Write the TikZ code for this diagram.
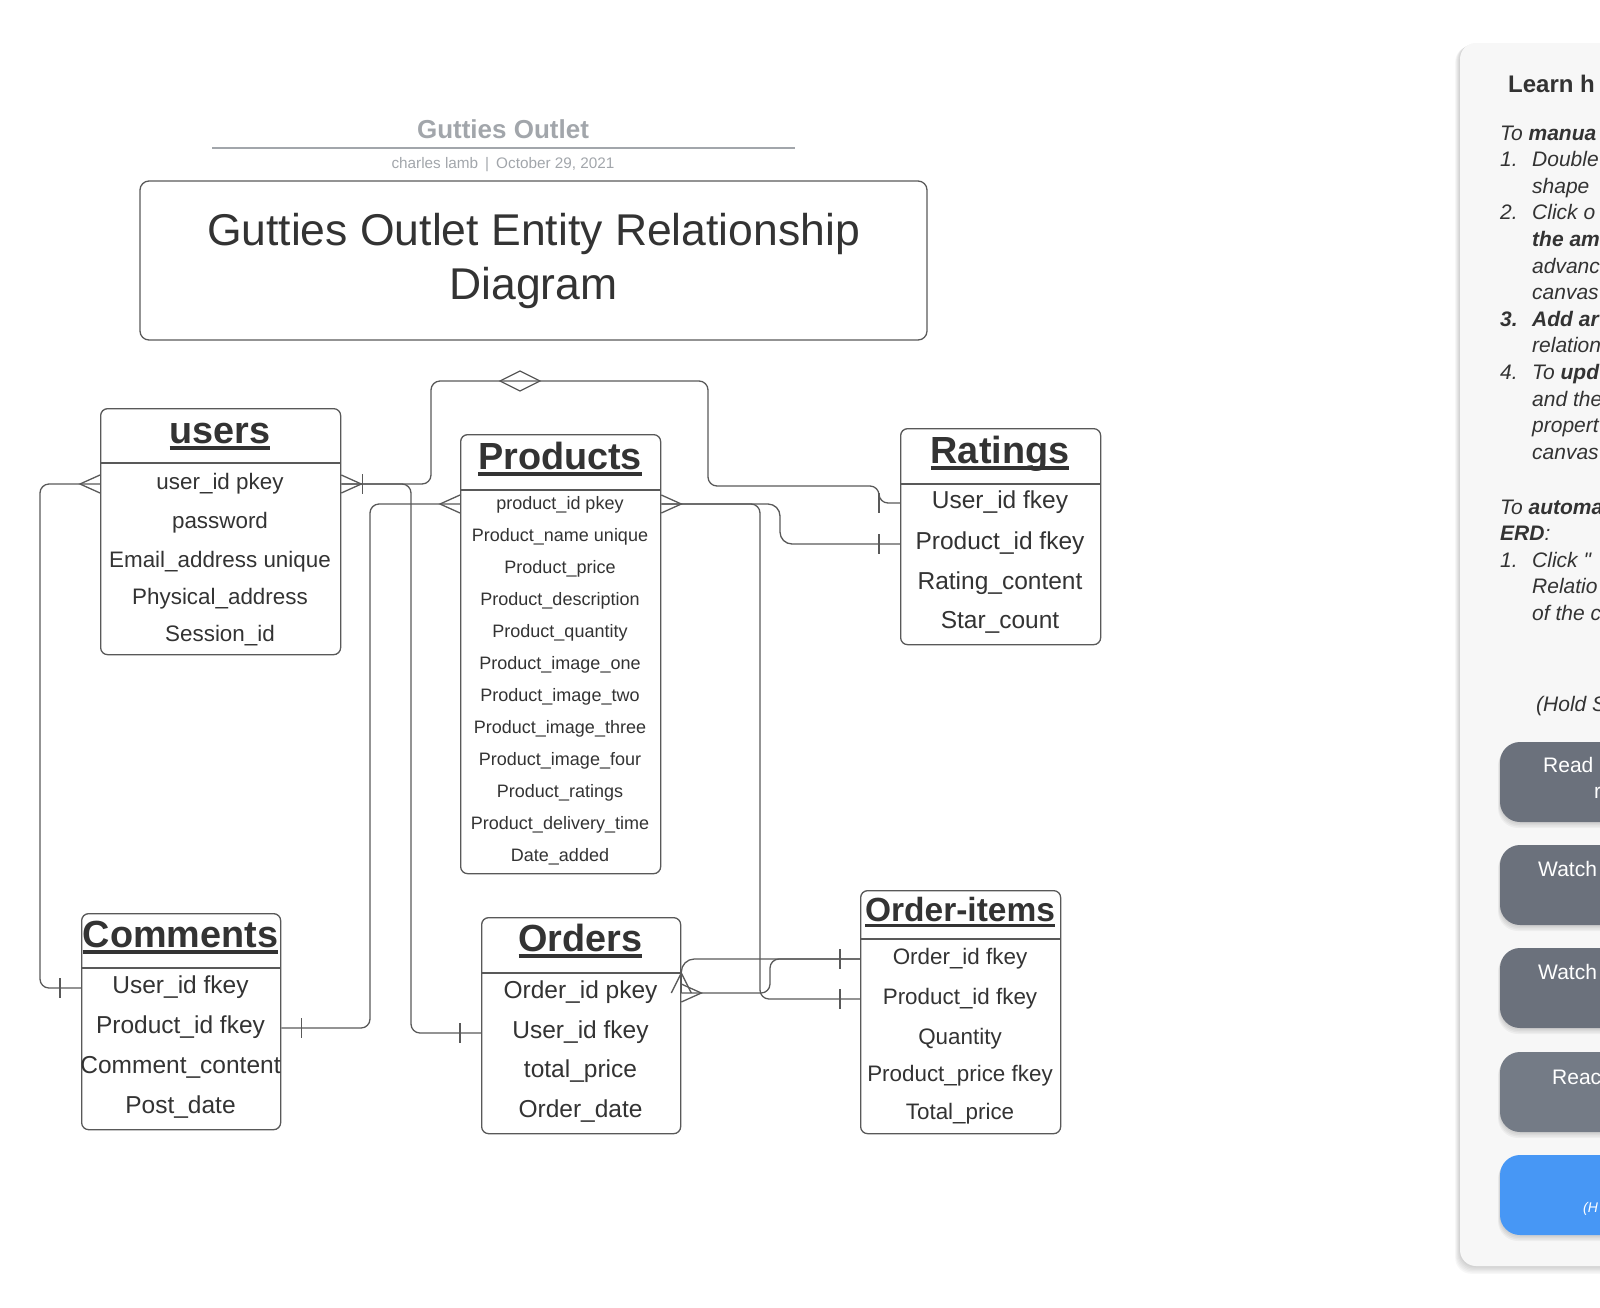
\documentclass[tikz,border=0pt]{standalone}
\usepackage{fontspec}
\setmainfont{Liberation Sans}
\usetikzlibrary{positioning,calc}

\definecolor{linegray}{HTML}{595959}
\definecolor{textdark}{HTML}{333333}
\definecolor{headgray}{HTML}{A2A6AB}
\definecolor{panelfill}{HTML}{F7F7F7}
\definecolor{btngray}{HTML}{6B717C}
\definecolor{btnlight}{HTML}{747B86}
\definecolor{btnblue}{HTML}{4797F5}

\newcommand{\entname}[1]{\sbox0{#1}\rlap{\usebox0}\rule[-0.18em]{\wd0}{0.095em}}

\tikzset{
  entity/.style={draw=linegray, line width=1.3pt, rounded corners=7pt, fill=white, anchor=north west, inner sep=0pt},
  etitle/.style={anchor=base, text=textdark, inner sep=0pt, font=\fontsize{37.8}{40}\selectfont\bfseries},
  attr/.style={text=textdark, inner sep=0pt, text height=1.05em, text depth=0.05em},
  attrsmall/.style={font=\fontsize{18}{20}\selectfont},
  attrmid/.style={font=\fontsize{22.4}{24}\selectfont},
  attrbig/.style={font=\fontsize{24.5}{26}\selectfont},
  headline/.style={draw=linegray, line width=1.3pt},
  conn/.style={draw=linegray, line width=1.3pt, rounded corners=9pt},
  foot/.style={draw=linegray, line width=1.3pt},
  helptext/.style={anchor=base west, inner sep=0pt, text=textdark, font=\fontsize{21}{26}\selectfont\itshape},
  btntext/.style={anchor=base west, inner sep=0pt, text=white, font=\fontsize{21}{26}\selectfont},
}

\begin{document}
\begin{tikzpicture}[x=1pt, y=-1pt]
    \useasboundingbox (0,0) rectangle (1600,1307);

    % Document header
    \node[text=headgray, font=\fontsize{26}{28}\selectfont\bfseries] (doctitle) at (503,129) {Gutties Outlet};
    \draw[headgray, line width=2pt] (212,148) -- (795,148);
    \node[text=headgray, font=\fontsize{15.3}{17}\selectfont] (docinfo) at (503,165) {charles lamb\hspace{7pt}|\hspace{7pt}October 29, 2021};

    % Title box
    \node[draw=linegray, line width=1.3pt, rounded corners=9pt, minimum width=787pt, minimum height=159pt, align=center, text=textdark, font=\fontsize{44.5}{54}\selectfont] (maintitle) at (533.5,260.5) {Gutties Outlet Entity Relationship\\Diagram};

    % users
    \node[entity, minimum width=240pt, minimum height=246pt] (users) at (100,408) {};
    \draw[headline] (100,463) -- (340,463);
    \node[etitle] (userstitle) at (220,443) {\entname{users}};
    \node[attr, attrmid] (usersid) at (220,484) {user\_id pkey};
    \node[attr, attrmid] (userspass) at (220,523) {password};
    \node[attr, attrmid] (usersmail) at (220,562) {Email\_address unique};
    \node[attr, attrmid] (usersaddr) at (220,599) {Physical\_address};
    \node[attr, attrmid] (userssess) at (220,636) {Session\_id};

    % Products
    \node[entity, minimum width=200pt, minimum height=439pt] (products) at (460,434) {};
    \draw[headline] (460,490) -- (660,490);
    \node[etitle] (prodtitle) at (560,469) {\entname{Products}};
    \node[attr, attrsmall] (prodid) at (560,504) {product\_id pkey};
    \node[attr, attrsmall] (prodname) at (560,536) {Product\_name unique};
    \node[attr, attrsmall] (prodprice) at (560,568) {Product\_price};
    \node[attr, attrsmall] (proddesc) at (560,600) {Product\_description};
    \node[attr, attrsmall] (prodqty) at (560,632) {Product\_quantity};
    \node[attr, attrsmall] (prodimgone) at (560,664) {Product\_image\_one};
    \node[attr, attrsmall] (prodimgtwo) at (560,696) {Product\_image\_two};
    \node[attr, attrsmall] (prodimgthree) at (560,728) {Product\_image\_three};
    \node[attr, attrsmall] (prodimgfour) at (560,760) {Product\_image\_four};
    \node[attr, attrsmall] (prodrate) at (560,792) {Product\_ratings};
    \node[attr, attrsmall] (proddeliv) at (560,824) {Product\_delivery\_time};
    \node[attr, attrsmall] (prodadded) at (560,856) {Date\_added};

    % Ratings
    \node[entity, minimum width=200pt, minimum height=216pt] (ratings) at (900,428) {};
    \draw[headline] (900,484) -- (1100,484);
    \node[etitle] (rattitle) at (1000,463) {\entname{Ratings}};
    \node[attr, attrbig] (ratuser) at (1000,503) {User\_id fkey};
    \node[attr, attrbig] (ratprod) at (1000,544) {Product\_id fkey};
    \node[attr, attrbig] (ratcontent) at (1000,584) {Rating\_content};
    \node[attr, attrbig] (ratstars) at (1000,623) {Star\_count};

    % Comments
    \node[entity, minimum width=199pt, minimum height=216pt] (comments) at (81,913) {};
    \draw[headline] (81,968) -- (280,968);
    \node[etitle] (commtitle) at (180.5,947) {\entname{Comments}};
    \node[attr, attrbig] (commuser) at (180.5,988) {User\_id fkey};
    \node[attr, attrbig] (commprod) at (180.5,1028) {Product\_id fkey};
    \node[attr, attrbig] (commcontent) at (180.5,1068) {Comment\_content};
    \node[attr, attrbig] (commdate) at (180.5,1108) {Post\_date};

    % Orders
    \node[entity, minimum width=199pt, minimum height=216pt] (orders) at (481,917) {};
    \draw[headline] (481,973) -- (680,973);
    \node[etitle] (ordtitle) at (580.5,951) {\entname{Orders}};
    \node[attr, attrbig] (ordid) at (580.5,993) {Order\_id pkey};
    \node[attr, attrbig] (orduser) at (580.5,1033) {User\_id fkey};
    \node[attr, attrbig] (ordtotal) at (580.5,1072) {total\_price};
    \node[attr, attrbig] (orddate) at (580.5,1112) {Order\_date};

    % Order-items
    \node[entity, minimum width=200pt, minimum height=243pt] (orderitems) at (860,890) {};
    \draw[headline] (860,939) -- (1060,939);
    \node[etitle, font=\fontsize{33.5}{36}\selectfont\bfseries] (oititle) at (960,921) {\entname{Order-items}};
    \node[attr, attrmid] (oiorder) at (960,959) {Order\_id fkey};
    \node[attr, attrmid] (oiprod) at (960,999) {Product\_id fkey};
    \node[attr, attrmid] (oiqty) at (960,1039) {Quantity};
    \node[attr, attrmid] (oiprice) at (960,1076) {Product\_price fkey};
    \node[attr, attrmid] (oitotal) at (960,1114) {Total\_price};

    % Routing points
    \coordinate (railuc) at (40,0);
    \coordinate (railpc) at (370,0);
    \coordinate (railuo) at (411,0);
    \coordinate (loopa) at (431,381);
    \coordinate (loopb) at (708,486);
    \coordinate (diam) at (520,381);
    \coordinate (railpo) at (760,0);
    \coordinate (railoo) at (770,0);
    \coordinate (railpr) at (780,0);
    \coordinate (railr) at (879,0);

    % Connectors
    \draw[conn] (users.west |- usersid) -| (railuc |- commuser) -- (comments.west |- commuser);
    \draw[conn] (users.east |- usersid) -| (loopa) -| (loopb) -| (railr |- ratuser) [rounded corners=8pt] -- (ratings.west |- ratuser);
    \draw[conn] (users.east |- usersid) -| (railuo |- orduser) -- (orders.west |- orduser);
    \draw[conn] (products.west |- prodid) -| (railpc |- commprod) -- (comments.east |- commprod);
    \draw[conn, rounded corners=12pt] (products.east |- prodid) -| (railpr |- ratprod) -- (ratings.west |- ratprod);
    \draw[conn] (products.east |- prodid) -| (railpo |- oiprod) -- (orderitems.west |- oiprod);
    \draw[conn] (orders.east |- ordid) -| (railoo |- oiorder) -- (orderitems.west |- oiorder);
    \draw[conn, rounded corners=13pt] (orders.east |- ordid) -- (orders.east |- oiorder) -- (orderitems.west |- oiorder);

    % Crow's feet, bars and diamond
    \draw[foot] (users.west |- usersid) ++(0,-9) -- ++(-20,9) -- ++(20,9);
    \draw[foot] (users.east |- usersid) ++(0,-9) -- ++(20,9) -- ++(-20,9);
    \draw[foot] (users.east |- usersid) ++(21,-10) -- ++(0,20);
    \draw[foot] (comments.west |- commuser) ++(-21,-10) -- ++(0,20);
    \draw[foot] (comments.east |- commprod) ++(20,-10) -- ++(0,20);
    \draw[foot] (products.west |- prodid) ++(0,-9) -- ++(-20,9) -- ++(20,9);
    \draw[foot] (products.east |- prodid) ++(0,-9) -- ++(20,9) -- ++(-20,9);
    \draw[foot] (ratings.west |- ratuser) ++(-21,-10) -- ++(0,20);
    \draw[foot] (ratings.west |- ratprod) ++(-21,-10) -- ++(0,20);
    \draw[foot] (orders.west |- orduser) ++(-21,-10) -- ++(0,20);
    \draw[foot] (orders.east |- ordid) ++(0,-9) -- ++(20,9) -- ++(-20,9);
    \draw[foot] (orders.east |- ordid) ++(-10,0) -- ++(10,-20) -- ++(10,20);
    \draw[foot] (orderitems.west |- oiorder) ++(-20,-10) -- ++(0,20);
    \draw[foot] (orderitems.west |- oiprod) ++(-20,-10) -- ++(0,20);
    \draw[foot] (diam) ++(-20,0) -- ++(20,-10) -- ++(20,10) -- ++(-20,10) -- cycle;

    % Help panel
    \foreach \s in {1,...,6}
        \fill[black, opacity=0.03, rounded corners=16pt] ({1460-\s*0.8},{43+\s*0.5}) rectangle (1650,{1266+\s*1.3});
    \fill[panelfill, rounded corners=16pt] (1460,43) rectangle (1650,1266);
    \node[anchor=base west, inner sep=0pt, text=textdark, font=\fontsize{24}{26}\selectfont\bfseries] (learn) at (1508,92) {Learn h};
    \node[helptext] (hl1) at (1500,140) {To \textbf{manua}};
    \node[helptext] (hl2n) at (1500,166.6) {1.};
    \node[helptext] (hl2) at (1532,166.6) {Double};
    \node[helptext] (hl3) at (1532,193.2) {shape};
    \node[helptext] (hl4n) at (1500,219.8) {2.};
    \node[helptext] (hl4) at (1532,219.8) {Click o};
    \node[helptext] (hl5) at (1532,246.4) {\textbf{the am}};
    \node[helptext] (hl6) at (1532,273) {advanc};
    \node[helptext] (hl7) at (1532,299.6) {canvas};
    \node[helptext] (hl8n) at (1500,326.2) {\textbf{3.}};
    \node[helptext] (hl8) at (1532,326.2) {\textbf{Add ar}};
    \node[helptext] (hl9) at (1532,352.8) {relation};
    \node[helptext] (hl10n) at (1500,379.4) {4.};
    \node[helptext] (hl10) at (1532,379.4) {To \textbf{upd}};
    \node[helptext] (hl11) at (1532,406) {and the};
    \node[helptext] (hl12) at (1532,432.6) {propert};
    \node[helptext] (hl13) at (1532,459.2) {canvas};
    \node[helptext] (hl14) at (1500,514) {To \textbf{automa}};
    \node[helptext] (hl15) at (1500,540.6) {\textbf{ERD}:};
    \node[helptext] (hl16n) at (1500,567.2) {1.};
    \node[helptext] (hl16) at (1532,567.2) {Click \textquotedbl};
    \node[helptext] (hl17) at (1532,593.8) {Relatio};
    \node[helptext] (hl18) at (1532,620.4) {of the c};
    \node[helptext] (hold) at (1536,711) {(Hold S};

    % Buttons
    \foreach \yt/\col in {742/btngray, 845/btngray, 948/btngray, 1052/btnlight, 1155/btnblue} {
        \foreach \s in {1,...,4}
            \fill[black, opacity=0.04, rounded corners=20pt] ({1500-\s*0.5},{\yt+\s}) rectangle (1660,{\yt+80+\s*1.5});
        \fill[\col, rounded corners=20pt] (1500,\yt) rectangle (1660,{\yt+80});
    }
    \node[btntext] (btnread) at (1543,772) {Read};
    \node[btntext] (btnreadb) at (1594,798) {r};
    \node[btntext] (btnwatch) at (1538,876) {Watch};
    \node[btntext] (btnwatchb) at (1538,979) {Watch};
    \node[btntext] (btnreadc) at (1552,1084) {Reac};
    \node[btntext, font=\fontsize{14}{16}\selectfont\itshape] (btnhold) at (1583,1212) {(H};
\end{tikzpicture}
\end{document}
